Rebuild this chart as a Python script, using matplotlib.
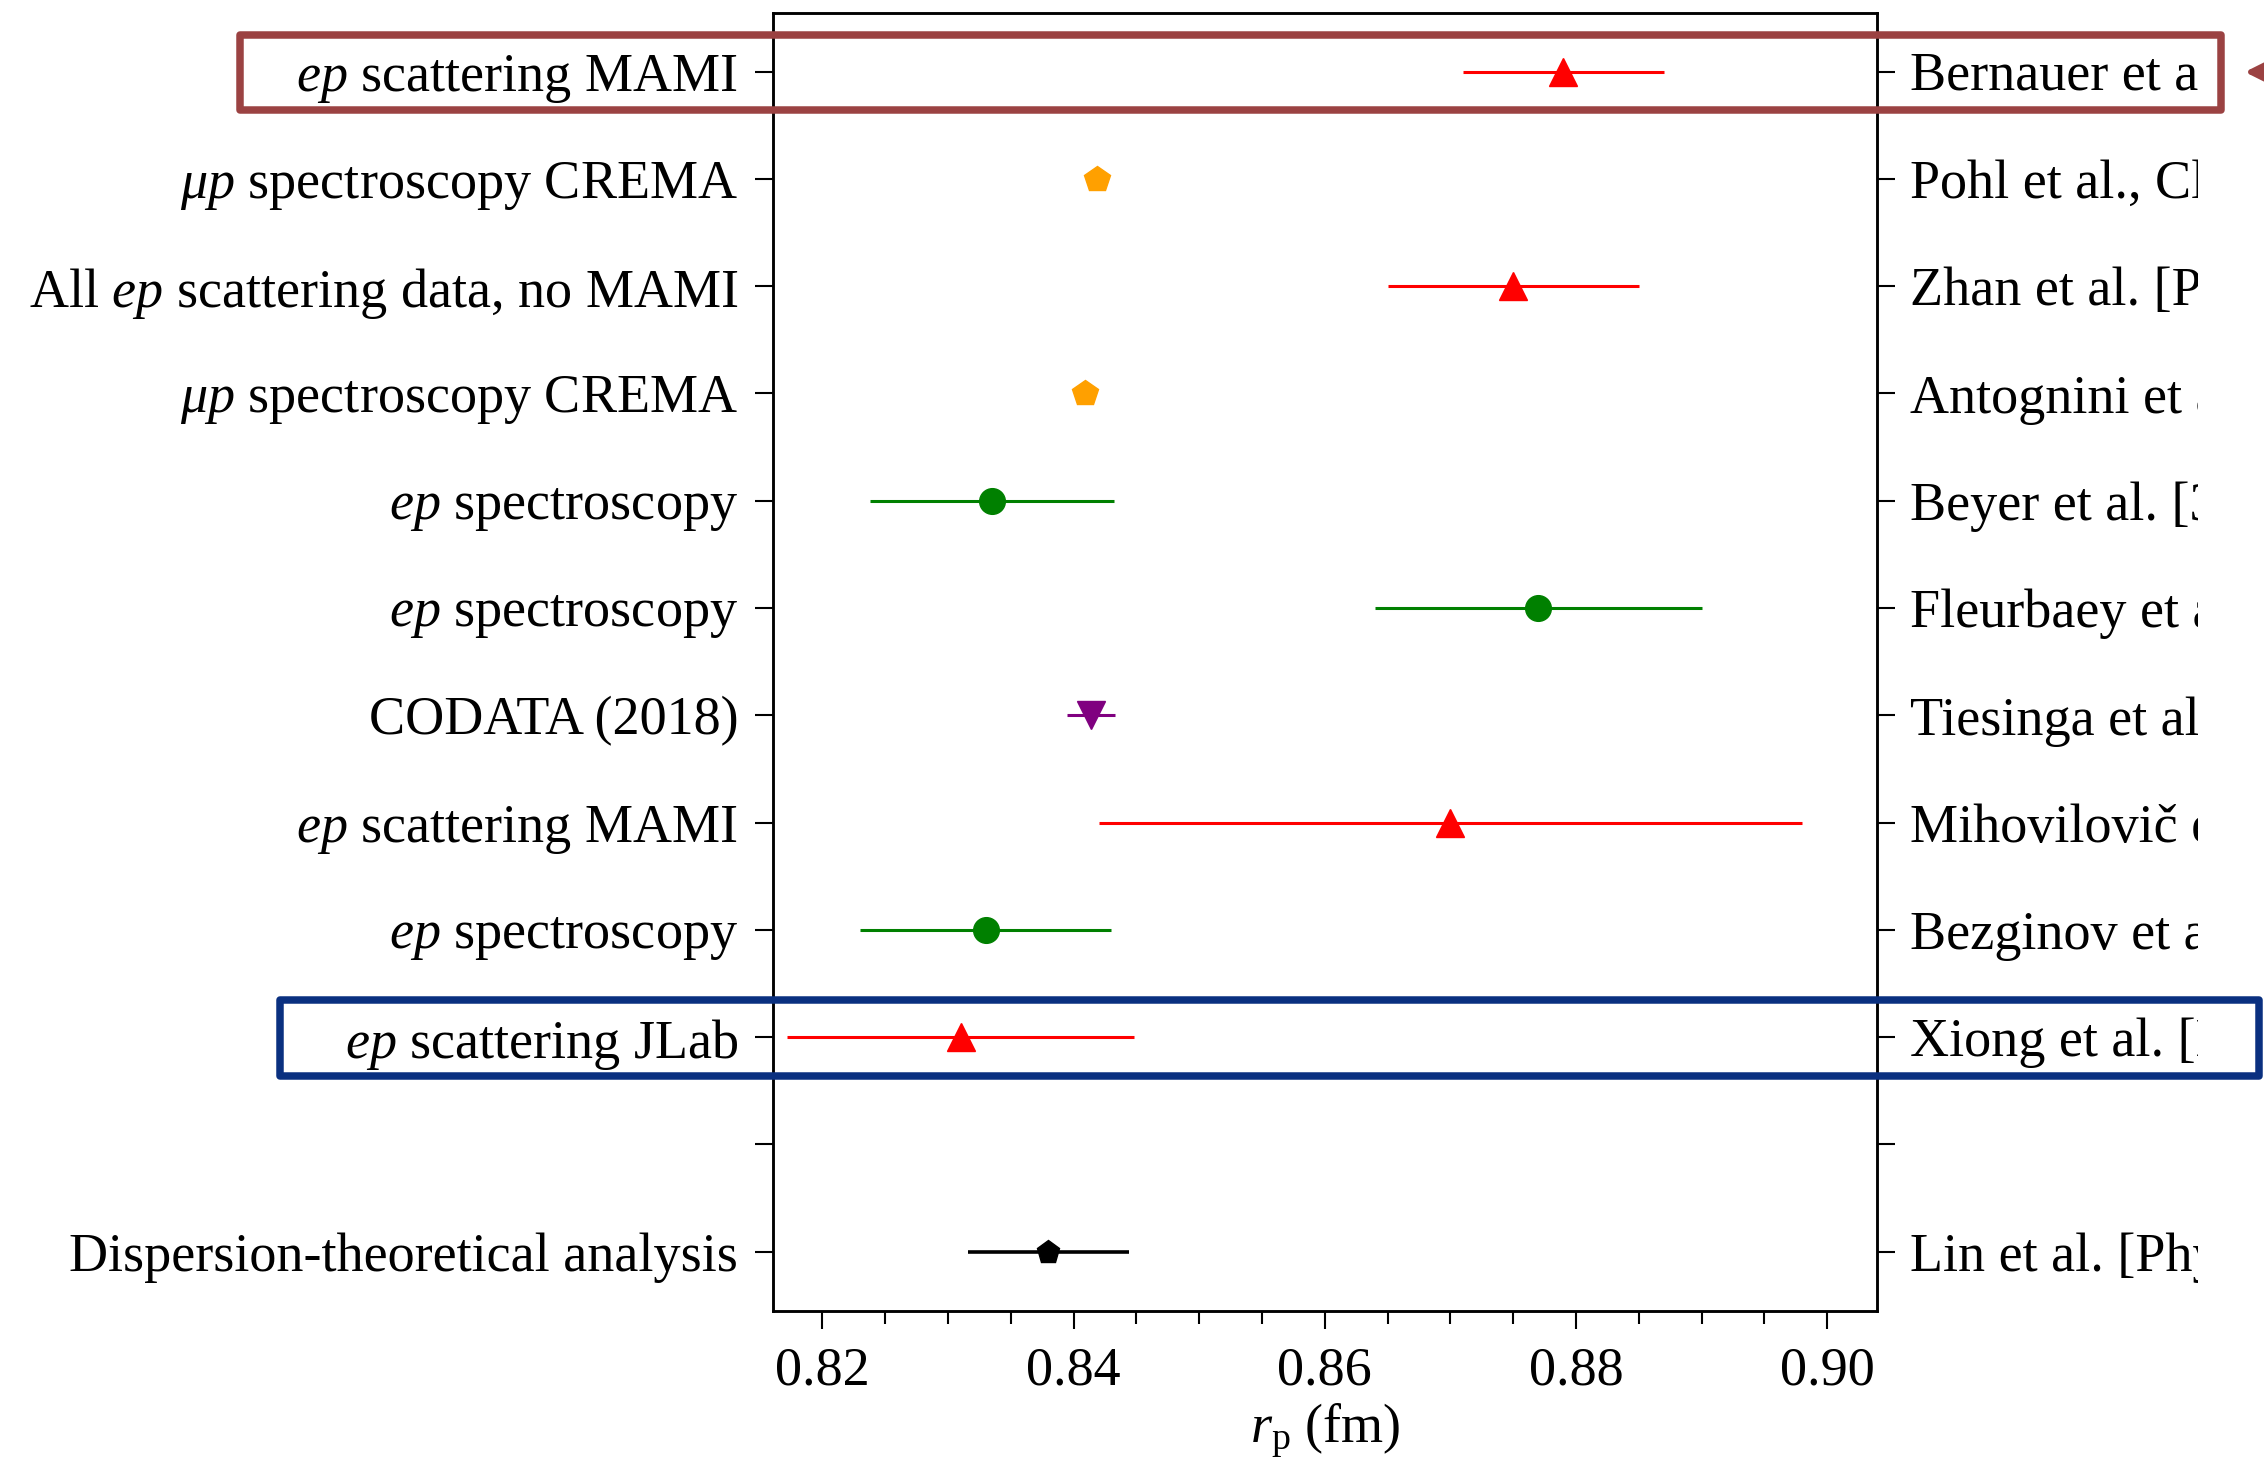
import numpy as np
import matplotlib
matplotlib.use("Agg")
import matplotlib.pyplot as plt
from matplotlib.patches import Rectangle, FancyArrowPatch
from matplotlib.transforms import Bbox, TransformedBbox

plt.rcParams["font.family"] = ["Liberation Serif", "DejaVu Serif"]
plt.rcParams["mathtext.fontset"] = "custom"
plt.rcParams["mathtext.rm"] = "Liberation Serif"
plt.rcParams["mathtext.it"] = "Liberation Serif:italic"

# proton charge radius determinations, listed top to bottom (fm)
methods = [
    r"$ep$ scattering MAMI",
    r"$\mu p$ spectroscopy CREMA",
    r"All $ep$ scattering data, no MAMI",
    r"$\mu p$ spectroscopy CREMA",
    r"$ep$ spectroscopy",
    r"$ep$ spectroscopy",
    "CODATA (2018)",
    r"$ep$ scattering MAMI",
    r"$ep$ spectroscopy",
    r"$ep$ scattering JLab",
    "",
    "Dispersion-theoretical analysis",
]
# reference column, cut off at the right margin of the panel
references = [
    "Bernauer et al",
    "Pohl et al., Cl",
    "Zhan et al. [P",
    "Antognini et a",
    "Beyer et al. [3",
    "Fleurbaey et a",
    "Tiesinga et al.",
    "Mihovilovič e",
    "Bezginov et a",
    "Xiong et al. [N",
    "",
    "Lin et al. [Phy",
]
radius = [0.879, 0.84184, 0.875, 0.84087, 0.8335, 0.877, 0.8414, 0.870,
          0.833, 0.831, np.nan, 0.838]
radius_err = [0.008, 0.00067, 0.010, 0.00039, 0.0097, 0.013, 0.0019, 0.028,
              0.010, 0.0138, np.nan, 0.0064]
kind = ["scat", "muon", "scat", "muon", "spec", "spec", "codata", "scat",
        "spec", "scat", None, "theory"]

styles = {
    "scat": dict(color="red", marker="^", ms=20, elinewidth=2.2),
    "muon": dict(color="#ffa000", marker="p", ms=19, elinewidth=2.2),
    "spec": dict(color="green", marker="o", ms=18.5, elinewidth=2.2),
    "codata": dict(color="purple", marker="v", ms=20, elinewidth=2.2),
    "theory": dict(color="black", marker="p", ms=17, elinewidth=2.6),
}

W, H = 2264, 1461
fig = plt.figure(figsize=(W / 100, H / 100), dpi=100)
ax = fig.add_axes([773 / W, 1 - 1311 / H, (1877 - 773) / W, (1311 - 13) / H])

n = len(methods)
ypos = np.arange(n)[::-1]

for y, r, e, k in zip(ypos, radius, radius_err, kind):
    if k is None:
        continue
    st = styles[k]
    ax.errorbar(r, y, xerr=e, fmt=st["marker"], color=st["color"],
                ms=st["ms"], mec=st["color"], elinewidth=st["elinewidth"],
                capsize=0, zorder=3)

fs = 39
ax.set_xlim(0.81607, 0.90396)
ax.set_ylim(-0.553, 11.547)
ax.set_xticks([0.82, 0.84, 0.86, 0.88, 0.90])
ax.set_xticklabels(["0.82", "0.84", "0.86", "0.88", "0.90"], fontsize=fs)
ax.set_xticks(np.arange(0.825, 0.9, 0.005), minor=True)
ax.set_yticks(ypos)
ax.set_yticklabels(methods, fontsize=fs)
ax.set_xlabel(r"$r_\mathrm{p}$ (fm)", fontsize=fs, labelpad=4)

ax.tick_params(axis="x", which="major", direction="out", length=13, width=1.5,
               pad=12, top=False)
ax.tick_params(axis="x", which="minor", direction="out", length=9.5, width=1.5,
               top=False)
ax.tick_params(axis="y", which="both", direction="out", length=13, width=1.5,
               pad=12, right=False)
ax.yaxis.set_minor_locator(matplotlib.ticker.NullLocator())
for sp in ax.spines.values():
    sp.set_linewidth(1.8)

ax2 = ax.twinx()
ax2.set_ylim(ax.get_ylim())
ax2.set_yticks(ypos)
ax2.set_yticklabels(references, fontsize=fs)
ax2.tick_params(axis="y", direction="out", length=13, width=1.5, pad=11)
for sp in ax2.spines.values():
    sp.set_linewidth(1.8)

clip = TransformedBbox(Bbox.from_extents(0, 0, 2198 / W, 1), fig.transFigure)
for t in ax2.get_yticklabels():
    t.set_clip_box(clip)
    t.set_clip_on(True)

# highlight frames around the MAMI and JLab scattering rows
red_box = "#9b4242"
blue_box = "#0a3080"
fig.add_artist(Rectangle((240 / W, 1 - 110 / H), (2221 - 240) / W, 75 / H,
                         transform=fig.transFigure, fill=False,
                         edgecolor=red_box, lw=5.4, joinstyle="round"))
fig.add_artist(Rectangle((280 / W, 1 - 1076 / H), (2259 - 280) / W, 76 / H,
                         transform=fig.transFigure, fill=False,
                         edgecolor=blue_box, lw=5.4, joinstyle="round"))
fig.add_artist(FancyArrowPatch((2300 / W, 1 - 72 / H), (2242 / W, 1 - 72 / H),
                               transform=fig.transFigure, arrowstyle="-|>",
                               mutation_scale=36, color=red_box, lw=4))

fig.savefig("out.png", dpi=100)
